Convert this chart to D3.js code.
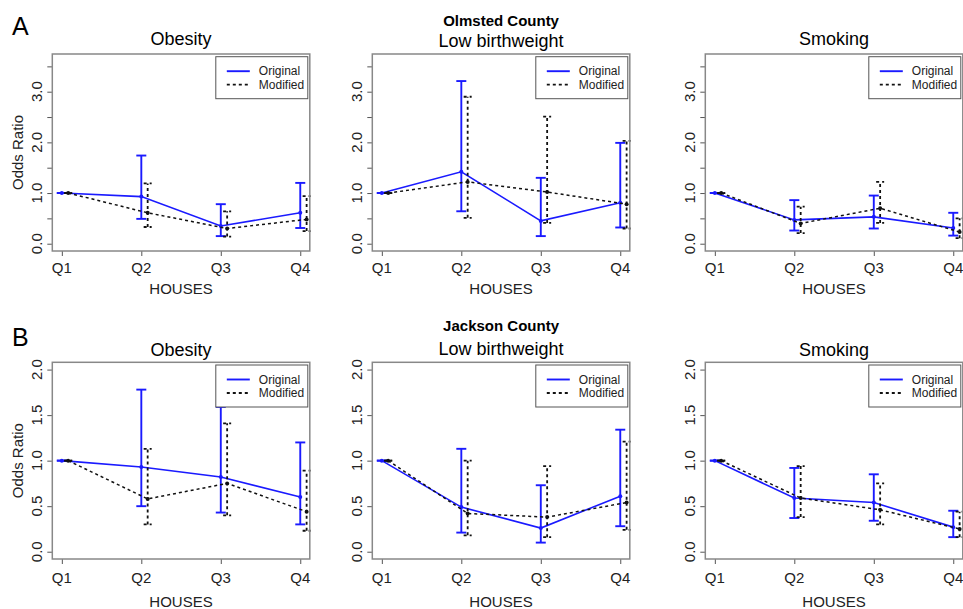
<!DOCTYPE html>
<html>
<head>
<meta charset="utf-8">
<script src="https://cdn.jsdelivr.net/npm/d3@7"></script>
<style>
  body { margin: 0; background: #fff; }
  svg { font-family: "Liberation Sans", Arial, sans-serif; display: block; }
</style>
</head>
<body>
<div id="chart"></div>
<script>
// categories
var quartiles = ["Q1", "Q2", "Q3", "Q4"];
var outcomes = ["Obesity", "Low birthweight", "Smoking"];
var counties = ["Olmsted County", "Jackson County"];
var panelLetters = ["A", "B"];
var seriesNames = ["Original", "Modified"];

// y ticks per row
var yTicksA = [0, 0.5, 1, 1.5, 2, 2.5, 3, 3.5];
var yLabelsA = ["0.0", "", "1.0", "", "2.0", "", "3.0", ""];
var yTicksB = [0, 0.5, 1, 1.5, 2];
var yLabelsB = ["0.0", "0.5", "1.0", "1.5", "2.0"];
var yLimA = [0, 3.6];
var yLimB = [0, 2];

// Olmsted County (rows = Obesity, Low birthweight, Smoking)
var olmstedOrigOR = [[1, 0.93, 0.35, 0.61], [1, 1.42, 0.45, 0.81], [1, 0.47, 0.53, 0.31]];
var olmstedOrigLo = [[1, 0.49, 0.15, 0.31], [1, 0.64, 0.15, 0.32], [1, 0.26, 0.30, 0.16]];
var olmstedOrigHi = [[1, 1.74, 0.78, 1.20], [1, 3.21, 1.30, 1.99], [1, 0.86, 0.95, 0.61]];
var olmstedModOR  = [[1, 0.61, 0.30, 0.48], [1, 1.22, 1.02, 0.78], [1, 0.40, 0.70, 0.23]];
var olmstedModLo  = [[1, 0.33, 0.14, 0.25], [1, 0.51, 0.41, 0.30], [1, 0.21, 0.41, 0.11]];
var olmstedModHi  = [[1, 1.19, 0.64, 0.94], [1, 2.90, 2.51, 2.03], [1, 0.73, 1.22, 0.50]];

// Jackson County
var jacksonOrigOR = [[1, 0.93, 0.82, 0.60], [1, 0.49, 0.26, 0.61], [1, 0.59, 0.54, 0.27]];
var jacksonOrigLo = [[1, 0.50, 0.43, 0.30], [1, 0.21, 0.10, 0.28], [1, 0.37, 0.34, 0.16]];
var jacksonOrigHi = [[1, 1.78, 1.59, 1.20], [1, 1.13, 0.73, 1.34], [1, 0.92, 0.85, 0.45]];
var jacksonModOR  = [[1, 0.58, 0.75, 0.44], [1, 0.42, 0.38, 0.54], [1, 0.59, 0.46, 0.25]];
var jacksonModLo  = [[1, 0.30, 0.40, 0.23], [1, 0.18, 0.16, 0.24], [1, 0.38, 0.30, 0.16]];
var jacksonModHi  = [[1, 1.13, 1.41, 0.89], [1, 1.00, 0.94, 1.21], [1, 0.94, 0.75, 0.44]];

var W = 963, H = 609;
var panelX = [0, 320, 653];
var rows = [
    { top: 54, bottom: 251, lim: yLimA, ticks: yTicksA, labels: yLabelsA,
      orig: [olmstedOrigOR, olmstedOrigLo, olmstedOrigHi], mod: [olmstedModOR, olmstedModLo, olmstedModHi],
      letterY: 35, countyY: 26, titleY: [45, 47, 45], qY: 273, xlabY: 294 },
    { top: 362.3, bottom: 559, lim: yLimB, ticks: yTicksB, labels: yLabelsB,
      orig: [jacksonOrigOR, jacksonOrigLo, jacksonOrigHi], mod: [jacksonModOR, jacksonModLo, jacksonModHi],
      letterY: 346, countyY: 331, titleY: [356, 355, 356], qY: 583, xlabY: 607 }
];
var plotLeft = 52.3, plotW = 257.5;
var modShift = 0.08;

var svg = d3.select("#chart").append("svg")
    .attr("width", W)
    .attr("height", H);

rows.forEach(function(row, r)
{
    // panel letter and county header
    svg.append("text")
        .attr("x", 12).attr("y", row.letterY)
        .attr("font-size", 25)
        .text(panelLetters[r]);
    svg.append("text")
        .attr("x", panelX[1] + plotLeft + plotW / 2).attr("y", row.countyY)
        .attr("text-anchor", "middle")
        .attr("font-size", 15).attr("font-weight", "bold")
        .text(counties[r]);

    outcomes.forEach(function(name, c)
    {
        var x0 = panelX[c];
        var span = row.lim[1] - row.lim[0];

        // R style 4% axis extension
        var x = d3.scaleLinear()
            .domain([1 - 0.12, 4 + 0.12])
            .range([x0 + plotLeft, x0 + plotLeft + plotW]);
        var y = d3.scaleLinear()
            .domain([row.lim[0] - 0.04 * span, row.lim[1] + 0.04 * span])
            .range([row.bottom, row.top]);

        var g = svg.append("g");

        // title
        g.append("text")
            .attr("x", x0 + plotLeft + plotW / 2).attr("y", row.titleY[c])
            .attr("text-anchor", "middle")
            .attr("font-size", 18)
            .text(name);

        // y axis
        var yAxis = g.append("g")
            .attr("transform", "translate(" + (x0 + plotLeft) + ",0)")
            .call(d3.axisLeft(y).tickValues(row.ticks).tickSize(5).tickFormat(""));
        yAxis.select(".domain").remove();
        yAxis.selectAll("line").attr("stroke", "#555");

        g.selectAll(".ylab")
            .data(row.ticks)
            .enter().append("text")
            .attr("transform", function(d) { return "translate(" + (x0 + 42) + "," + y(d) + ") rotate(-90)"; })
            .attr("text-anchor", "middle")
            .attr("font-size", 15)
            .attr("fill", "#222")
            .text(function(d, i) { return row.labels[i]; });

        // x axis
        var xAxis = g.append("g")
            .attr("transform", "translate(0," + row.bottom + ")")
            .call(d3.axisBottom(x).tickValues([1, 2, 3, 4]).tickSize(5).tickFormat(""));
        xAxis.select(".domain").remove();
        xAxis.selectAll("line").attr("stroke", "#555");

        g.selectAll(".xlab")
            .data(quartiles)
            .enter().append("text")
            .attr("x", function(d, i) { return x(i + 1); })
            .attr("y", row.qY)
            .attr("text-anchor", "middle")
            .attr("font-size", 15)
            .attr("fill", "#222")
            .text(function(d) { return d; });

        g.append("text")
            .attr("x", x0 + plotLeft + plotW / 2).attr("y", row.xlabY)
            .attr("text-anchor", "middle")
            .attr("font-size", 15)
            .attr("fill", "#222")
            .text("HOUSES");

        if (c == 0)
        {
            g.append("text")
                .attr("transform", "translate(" + (x0 + 23) + "," + ((row.top + row.bottom) / 2) + ") rotate(-90)")
                .attr("text-anchor", "middle")
                .attr("font-size", 15)
                .attr("fill", "#222")
                .text("Odds Ratio");
        }

        // series: original (blue solid) and modified (black dotted, shifted right)
        var series = [
            { or: row.orig[0][c], lo: row.orig[1][c], hi: row.orig[2][c], shift: 0, color: "#1a1aff", dash: null, w: 1.6, capW: 5 },
            { or: row.mod[0][c], lo: row.mod[1][c], hi: row.mod[2][c], shift: modShift, color: "#111", dash: "3,3", w: 1.5, capW: 4 }
        ];

        series.forEach(function(s)
        {
            var pts = s.or.map(function(v, i) { return { q: i + 1 + s.shift, v: v, lo: s.lo[i], hi: s.hi[i] }; });
            var line = d3.line()
                .x(function(d) { return x(d.q); })
                .y(function(d) { return y(d.v); });

            g.append("path")
                .datum(pts)
                .attr("d", line)
                .attr("fill", "none")
                .attr("stroke", s.color)
                .attr("stroke-width", s.w)
                .attr("stroke-dasharray", s.dash);

            // error bars
            var eb = g.selectAll(null)
                .data(pts)
                .enter().append("g");
            eb.append("line")
                .attr("x1", function(d) { return x(d.q); })
                .attr("x2", function(d) { return x(d.q); })
                .attr("y1", function(d) { return y(d.lo); })
                .attr("y2", function(d) { return y(d.hi); })
                .attr("stroke", s.color)
                .attr("stroke-width", s.w + 0.3)
                .attr("stroke-dasharray", s.dash);
            ["lo", "hi"].forEach(function(k)
            {
                eb.append("line")
                    .attr("x1", function(d) { return x(d.q) - s.capW; })
                    .attr("x2", function(d) { return x(d.q) + s.capW; })
                    .attr("y1", function(d) { return y(d[k]); })
                    .attr("y2", function(d) { return y(d[k]); })
                    .attr("stroke", s.color)
                    .attr("stroke-width", s.w + 0.3)
                    .attr("stroke-dasharray", s.dash);
            });
            eb.append("circle")
                .attr("cx", function(d) { return x(d.q); })
                .attr("cy", function(d) { return y(d.v); })
                .attr("r", 2)
                .attr("fill", s.color);
        });

        // plot box
        g.append("rect")
            .attr("x", x0 + plotLeft).attr("y", row.top)
            .attr("width", plotW).attr("height", row.bottom - row.top)
            .attr("fill", "none")
            .attr("stroke", "#888")
            .attr("stroke-width", 1.5);

        // legend
        var lx = x0 + plotLeft + plotW - 94, ly = row.top + 2.7;
        var lg = g.append("g").attr("transform", "translate(" + lx + "," + ly + ")");
        lg.append("rect")
            .attr("width", 92).attr("height", 42)
            .attr("fill", "#fff")
            .attr("stroke", "#555")
            .attr("stroke-width", 1);
        seriesNames.forEach(function(nm, i)
        {
            var s = series[i];
            lg.append("line")
                .attr("x1", 11).attr("x2", 34)
                .attr("y1", 14.5 + i * 13.5).attr("y2", 14.5 + i * 13.5)
                .attr("stroke", s.color)
                .attr("stroke-width", s.w + 0.3)
                .attr("stroke-dasharray", s.dash);
            lg.append("text")
                .attr("x", 43).attr("y", 14.5 + i * 13.5)
                .attr("dy", "0.35em")
                .attr("font-size", 12)
                .attr("fill", "#222")
                .text(nm);
        });
    });
});
</script>
</body>
</html>
